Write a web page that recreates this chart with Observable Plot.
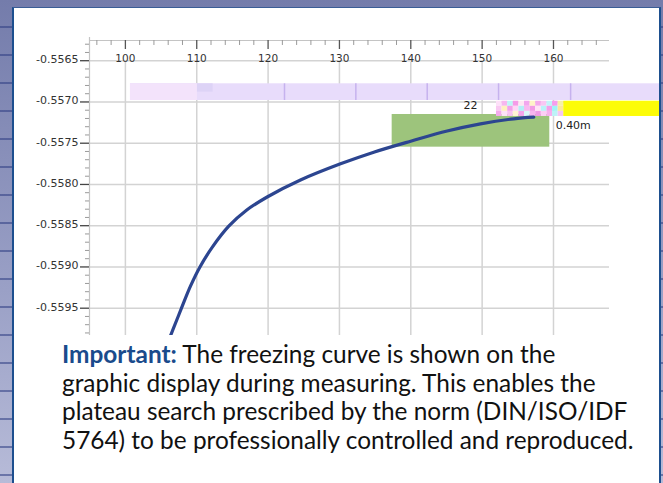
<!DOCTYPE html>
<html>
<head>
<meta charset="utf-8">
<script src="https://cdn.jsdelivr.net/npm/d3@7"></script>
<script src="https://cdn.jsdelivr.net/npm/@observablehq/plot@0.6"></script>
<style>
  html, body { margin: 0; padding: 0; }
  body {
    width: 663px; height: 483px; overflow: hidden; position: relative;
    background:
      repeating-linear-gradient(to bottom, rgba(255,255,255,0) 0px, rgba(255,255,255,0) 26px, rgba(45,60,130,0.55) 26px, rgba(45,60,130,0.55) 28px),
      linear-gradient(to bottom, #747cab 0%, #9aa0c6 60%, #b7bbd8 100%);
  }
  #panel { position: absolute; left: 12px; top: 7px; width: 649px; height: 490px; background: #ffffff; }
  #chart { position: absolute; left: 0; top: 0; }
  #chart svg { background: transparent !important; overflow: hidden; }
  #frame { position: absolute; left: 12px; top: 7px; width: 645px; height: 490px;
           border-left: 2px solid #1d4f8f; border-right: 2px solid #1d4f8f; border-top: 1px solid #3a5d96;
           pointer-events: none; }
  #note { position: absolute; left: 62px; top: 340px; font-family: Lato, "Open Sans", sans-serif;
          font-size: 24.4px; line-height: 28.6px; color: #111; white-space: nowrap; }
  #note b { color: #1a4b8c; font-weight: 700; }
</style>
</head>
<body>
<div id="panel"></div>
<div id="chart"></div>
<div id="note"><b>Important:</b> The freezing curve is shown on the<br>graphic display during measuring. This enables the<br>plateau search prescribed by the norm (DIN/ISO/IDF<br>5764) to be professionally controlled and reproduced.</div>
<div id="frame"></div>
<script>
// ---- data ----
const xTickValues = [100, 110, 120, 130, 140, 150, 160];
const yTickValues = [-0.5565, -0.5570, -0.5575, -0.5580, -0.5585, -0.5590, -0.5595];
const curveTime = [106.04, 106.62, 107.86, 109.12, 110.43, 112.21, 114.49, 116.97, 119.87, 124.54, 130.15, 134.81, 140.10, 145.10, 149.77, 154.44, 157.24];
const curveValue = [-0.559892, -0.559770, -0.559500, -0.559233, -0.559003, -0.558757, -0.558506, -0.558313, -0.558152, -0.557946, -0.557750, -0.557609, -0.557473, -0.557352, -0.557265, -0.557204, -0.557185];
// overlay boxes (data units)
const bandX = [100.71, 174.86];
const bandY = [-0.556780, -0.556982];
const bandLightX = [100.71, 110.10];
const bandDividers = [122.3, 132.3, 142.3, 152.3, 162.4];
const plateauX = [137.39, 159.48];
const plateauY = [-0.557152, -0.557548];
const yellowX = [161.44, 174.86];
const stripY = [-0.556991, -0.557176];
const noiseX = [152.01, 161.44];
const noiseColors = [
  ["#fde0f8","#f7b6ef","#bff6f7","#f59be8","#ffe6f4","#f2a6ee","#fff3c8","#f4a8ec","#f9c6f3","#c2f3fa","#f79ded","#f6f0a8"],
  ["#f9c9f2","#fff0c0","#f3a1ea","#ffd6f6","#b4eff6","#f8b9f0","#f29ae6","#ffe2f6","#b9f2f8","#f4a0ea","#9ff4f8","#fbe89c"],
  ["#f3aaec","#fde3f7","#f8c2f1","#fff5d4","#f4a4eb","#d9f8f9","#f7b5ef","#f09ae6","#fccff5","#f6b0ee","#bdf3f7","#f7c6f1"]
];
const labelN = {text: "22", x: 149.34, y: -0.557037};
const labelM = {text: "0.40m", x: 160.30, y: -0.557282};

const xDomain = [94.97, 167.85];
const yDomain = [-0.559831, -0.556255];
const xMin = xDomain[0], xMax = xDomain[1], yTop = yDomain[1];

const curve = curveTime.map((t, i) => ({t, v: curveValue[i]}));
const minorX = d3.range(96, 168, 2).filter(v => v % 10 !== 0);
const minorY = d3.range(-5598, -5562).filter(v => v % 5 !== 0).map(v => v / 10000);

// noise cells
const nCols = noiseColors[0].length, nRows = noiseColors.length;
const noiseCells = [];
noiseColors.forEach((row, r) => row.forEach((c, k) => {
  const w = (noiseX[1] - noiseX[0]) / nCols, h = (stripY[1] - stripY[0]) / nRows;
  noiseCells.push({x1: noiseX[0] + k * w, x2: noiseX[0] + (k + 1) * w, y1: stripY[0] + r * h, y2: stripY[0] + (r + 1) * h, c});
}));

const pxX = 7.135, pxY = 82500; // pixels per unit (used for small offsets)
const chart = Plot.plot({
  width: 663, height: 336,
  marginLeft: 89, marginRight: 54, marginTop: 40, marginBottom: 1,
  style: {background: "transparent", fontFamily: "DejaVu Sans, sans-serif"},
  x: {domain: xDomain, axis: null},
  y: {domain: yDomain, axis: null},
  marks: [
    // gridlines
    Plot.ruleY(yTickValues, {x1: xMin, x2: xMax, stroke: "#d3d3d3", strokeWidth: 1.5}),
    Plot.ruleX(xTickValues, {y1: yTop - 22 / pxY, y2: yDomain[0], stroke: "#d3d3d3", strokeWidth: 1.5}),
    // axis lines
    Plot.ruleY([yTop], {x1: xMin, x2: xMax, stroke: "#c4c4c4", strokeWidth: 1.2}),
    Plot.ruleX([xMin], {y1: yDomain[0], y2: yTop + 3 / pxY, stroke: "#c4c4c4", strokeWidth: 1.2}),
    // x ticks (hanging below the top axis)
    Plot.ruleX(minorX, {y1: yTop, y2: yTop - 5 / pxY, stroke: "#9a9a9a", strokeWidth: 1}),
    Plot.ruleX(xTickValues, {y1: yTop, y2: yTop - 9 / pxY, stroke: "#555", strokeWidth: 1.3}),
    Plot.text(xTickValues, {x: d => d, y: yTop - 18.3 / pxY, text: d => String(d), fontSize: 10.5, fill: "#333"}),
    // y ticks
    Plot.ruleY(minorY, {x1: xMin - 4 / pxX, x2: xMin, stroke: "#9a9a9a", strokeWidth: 1}),
    Plot.ruleY(yTickValues, {x1: xMin - 9 / pxX, x2: xMin, stroke: "#444", strokeWidth: 1.3}),
    Plot.text(yTickValues, {x: xMin - 11 / pxX, y: d => d, dy: -1, text: d => d.toFixed(4), textAnchor: "end", fontSize: 11, fill: "#333"}),
    // overlay band
    Plot.rect([0], {x1: bandX[0], x2: bandX[1], y1: bandY[0], y2: bandY[1], fill: "#e8dcfb"}),
    Plot.rect([0], {x1: bandLightX[0], x2: bandLightX[1], y1: bandY[0], y2: bandY[1], fill: "#f3e3fb"}),
    Plot.rect([0], {x1: bandLightX[1], x2: bandLightX[1] + 2.2, y1: bandY[0], y2: (bandY[0] + bandY[1]) / 2, fill: "#ddd3f6"}),
    Plot.ruleX(bandDividers, {y1: bandY[0], y2: bandY[1], stroke: "#c6b2ee", strokeWidth: 1.5}),
    // plateau box
    Plot.rect([0], {x1: plateauX[0], x2: plateauX[1], y1: plateauY[0], y2: plateauY[1], fill: "#9dc47c"}),
    // noise + yellow strip
    Plot.rect(noiseCells, {x1: "x1", x2: "x2", y1: "y1", y2: "y2", fill: d => d.c}),
    Plot.rect([0], {x1: yellowX[0], x2: yellowX[1], y1: stripY[0], y2: stripY[1], fill: "#fcfc08"}),
    // freezing curve
    Plot.line(curve, {x: "t", y: "v", stroke: "#2c4590", strokeWidth: 3.2, curve: "catmull-rom", clip: true}),
    // labels
    Plot.text([labelN], {x: "x", y: "y", text: "text", textAnchor: "end", fontSize: 11, fill: "#222"}),
    Plot.text([labelM], {x: "x", y: "y", text: "text", textAnchor: "start", fontSize: 11, fill: "#222"})
  ]
});
document.getElementById("chart").appendChild(chart);
</script>
</body>
</html>
